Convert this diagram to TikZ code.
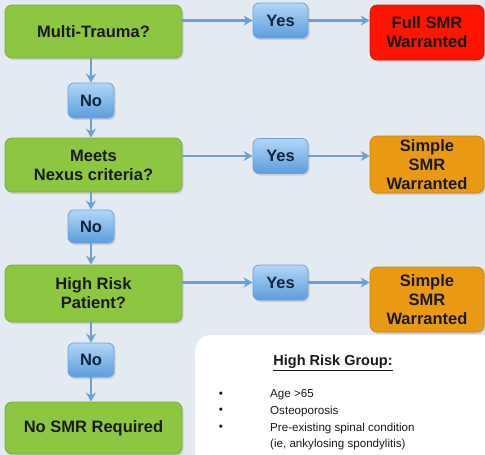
\documentclass[tikz,border=0pt]{standalone}
\usepackage{fontspec}
\setmainfont{Liberation Sans}
\usetikzlibrary{shadows,arrows.meta}
\definecolor{bg}{HTML}{E4EAF2}
\definecolor{grn}{HTML}{8DC641}
\definecolor{grnb}{HTML}{79AE3C}
\definecolor{bltop}{HTML}{B2D6F7}
\definecolor{blbot}{HTML}{5C9CDD}
\definecolor{blb}{HTML}{6FA3D6}
\definecolor{arrc}{HTML}{6E9FCE}
\definecolor{redc}{HTML}{FF1400}
\definecolor{orc}{HTML}{E99A12}
\definecolor{txt}{HTML}{1A1A1A}
\definecolor{btxt}{HTML}{13243C}
\tikzset{
  boxbase/.style={rounded corners=7pt, align=center, font=\fontsize{16.5}{19}\selectfont\bfseries, text=txt,
     drop shadow={shadow xshift=1.5pt, shadow yshift=-2pt, opacity=0.25}},
  greenbox/.style={boxbase, fill=grn, draw=grnb, line width=0.8pt, minimum width=177pt, inner sep=0pt},
  bluebox/.style={boxbase, rounded corners=6pt, top color=bltop, bottom color=blbot, draw=blb, line width=0.8pt,
     text=btxt, minimum width=55pt, minimum height=35pt, inner sep=0pt},
  nobox/.style={bluebox, minimum width=46pt},
  redbox/.style={boxbase, fill=redc, draw=redc!85!black, line width=0.6pt, minimum width=114pt, inner sep=0pt},
  orbox/.style={boxbase, fill=orc, draw=orc!85!black, line width=0.6pt, minimum width=114pt, inner sep=0pt},
  arr/.style={draw=arrc, line width=2.4pt, -{Stealth[length=9pt,width=10pt]}},
  itemtxt/.style={font=\fontsize{11.6}{14}\selectfont, text=txt, inner sep=0pt},
}
\begin{document}
\begin{tikzpicture}[x=1pt,y=-1pt]
\fill[bg] (0,0) rectangle (485,455);
\useasboundingbox (0,0) rectangle (485,455);
% row 1
\node[greenbox, minimum height=53pt] (g1) at (93.5,31.5) {Multi-Trauma?};
\node[bluebox] (y1) at (280.5,20.5) {Yes};
\node[redbox, minimum height=55pt] (r1) at (427,32.5) {Full SMR\\Warranted};
\node[nobox] (n1) at (91,100.5) {No};
% row 2
\node[greenbox, minimum height=54pt] (g2) at (93.5,165) {Meets\\Nexus criteria?};
\node[bluebox] (y2) at (280.5,156) {Yes};
\node[orbox, minimum height=57pt] (o1) at (427,164.5) {Simple\\SMR\\Warranted};
\node[nobox, minimum height=33pt] (n2) at (91,226.5) {No};
% row 3
\node[greenbox, minimum height=57pt] (g3) at (93.5,293.5) {High Risk\\Patient?};
\node[bluebox] (y3) at (280.5,282.5) {Yes};
\node[orbox, minimum height=65pt] (o2) at (427,299.5) {Simple\\SMR\\Warranted};
\node[nobox, minimum height=34pt] (n3) at (91,360) {No};
% row 4
\node[greenbox, minimum height=52pt] (g4) at (93.5,428) {No SMR Required};
% white box
\fill[white, rounded corners=16pt] (195,335) rectangle (510,480);
\node[font=\fontsize{14.5}{17}\selectfont\bfseries, text=txt] (hdr) at (333,363) {\underline{High Risk Group:}};
\foreach \yy/\tt [count=\i] in {395/Age >65, 411/Osteoporosis, 428/Pre-existing spinal condition, 444/(ie{,} ankylosing spondylitis)}{
  \node[itemtxt, anchor=west] (it\i) at (270,\yy) {\tt};
}
\foreach \yy [count=\i] in {395,411,428}{
  \node[itemtxt] (bu\i) at (221,\yy) {•};
}
% connectors
\draw[arr] (g1.east |- y1.west) -- (y1.west);
\draw[arr] (y1.east) -- (r1.west |- y1.east);
\draw[arr] (g2.east |- y2.west) -- (y2.west);
\draw[arr] (y2.east) -- (o1.west |- y2.east);
\draw[arr] (g3.east |- y3.west) -- (y3.west);
\draw[arr] (y3.east) -- (o2.west |- y3.east);
\draw[arr] (n1.north |- g1.south) -- (n1.north);
\draw[arr] (n1.south) -- (n1.south |- g2.north);
\draw[arr] (n2.north |- g2.south) -- (n2.north);
\draw[arr] (n2.south) -- (n2.south |- g3.north);
\draw[arr] (n3.north |- g3.south) -- (n3.north);
\draw[arr] (n3.south) -- (n3.south |- g4.north);
\end{tikzpicture}
\end{document}
